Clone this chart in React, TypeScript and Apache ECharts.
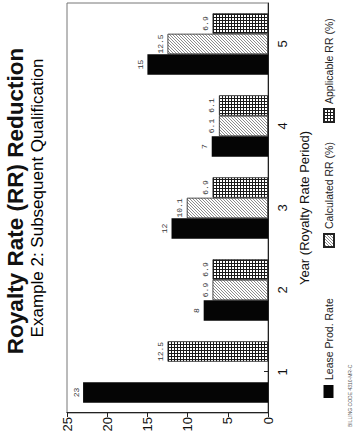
import React, { useEffect, useRef } from "react";
import * as echarts from "echarts";

const years = ["1", "2", "3", "4", "5"];
const leaseProdRate = [23, 8, 12, 7, 15];
const calculatedRR: (number | null)[] = [null, 6.9, 10.1, 6.1, 12.5];
const applicableRR = [12.5, 6.9, 6.9, 6.1, 6.9];
const valueAxisMax = 25;
const valueAxisStep = 5;

const titleText = "Royalty Rate (RR) Reduction";
const subtitleText = "Example 2: Subsequent Qualification";
const xAxisName = "Year (Royalty Rate Period)";
const seriesNames = ["Lease Prod. Rate", "Calculated RR (%)", "Applicable RR (%)"];
const footerText = "BILLING CODE 4310-MR-C";

function makeHatch(): HTMLCanvasElement {
  const c = document.createElement("canvas");
  c.width = 3;
  c.height = 3;
  const g = c.getContext("2d")!;
  g.fillStyle = "#ffffff";
  g.fillRect(0, 0, 3, 3);
  g.fillStyle = "#8c8c8c";
  g.fillRect(0, 2, 1, 1);
  g.fillRect(1, 1, 1, 1);
  g.fillRect(2, 0, 1, 1);
  return c;
}

function makeCross(): HTMLCanvasElement {
  const c = document.createElement("canvas");
  c.width = 3;
  c.height = 3;
  const g = c.getContext("2d")!;
  g.fillStyle = "#ffffff";
  g.fillRect(0, 0, 3, 3);
  g.fillStyle = "#1a1a1a";
  g.fillRect(0, 0, 3, 1);
  g.fillRect(0, 0, 1, 3);
  return c;
}

export default function App() {
  const ref = useRef<HTMLDivElement>(null);

  useEffect(() => {
    if (!ref.current) return;
    const chart = echarts.init(ref.current, undefined, { renderer: "svg" });
    const hatch = { image: makeHatch(), repeat: "repeat" } as any;
    const cross = { image: makeCross(), repeat: "repeat" } as any;
    const labelStyle = {
      show: true,
      position: "top" as const,
      distance: 3,
      fontSize: 8,
      fontFamily: "Liberation Mono",
      color: "#333",
    };
    const legendCommon = {
      itemWidth: 13,
      itemHeight: 10,
      icon: "rect",
      top: 318,
      textStyle: { fontSize: 10.5, color: "#222" },
    };
    const option: any = {
      animation: false,
      backgroundColor: "#ffffff",
      textStyle: { fontFamily: "Liberation Sans" },
      graphic: [
        {
          type: "text",
          x: 234,
          y: 4,
          style: {
            text: titleText,
            textAlign: "center",
            textVerticalAlign: "top",
            font: "bold 22.5px 'Liberation Sans'",
            fill: "#111",
          },
        },
        {
          type: "text",
          x: 237,
          y: 29,
          style: {
            text: subtitleText,
            textAlign: "center",
            textVerticalAlign: "top",
            font: "17px 'Liberation Sans'",
            fill: "#000",
          },
        },
        {
          type: "text",
          x: 8,
          y: 347,
          style: {
            text: footerText,
            textAlign: "left",
            textVerticalAlign: "top",
            font: "5px 'Liberation Sans'",
            fill: "#555",
          },
        },
      ],
      legend: [
        { ...legendCommon, data: [seriesNames[0]], left: 32 },
        { ...legendCommon, data: [seriesNames[1]], left: 182 },
        { ...legendCommon, data: [seriesNames[2]], left: 307 },
      ],
      grid: {
        left: 22,
        right: 3,
        top: 67,
        bottom: 88,
        show: true,
        borderColor: "#777",
        borderWidth: 1,
        containLabel: false,
      },
      xAxis: {
        type: "category",
        data: years,
        name: xAxisName,
        nameLocation: "middle",
        nameGap: 30,
        nameTextStyle: { fontSize: 13, color: "#111" },
        axisLine: { show: true, lineStyle: { color: "#222", width: 1 } },
        axisTick: { show: true, alignWithLabel: true, inside: true, length: 4, lineStyle: { color: "#222" } },
        axisLabel: { fontSize: 13, color: "#111", margin: 8 },
      },
      yAxis: {
        type: "value",
        min: 0,
        max: valueAxisMax,
        interval: valueAxisStep,
        axisLine: { show: true, lineStyle: { color: "#222", width: 1 } },
        axisTick: { show: true, inside: false, length: 4, lineStyle: { color: "#222" } },
        axisLabel: { fontSize: 13, color: "#111", margin: 4 },
        splitLine: { show: false },
      },
      series: [
        {
          name: seriesNames[0],
          type: "bar",
          data: leaseProdRate,
          barGap: "0%",
          barCategoryGap: "25%",
          itemStyle: { color: "#050505" },
          label: labelStyle,
        },
        {
          name: seriesNames[1],
          type: "bar",
          data: calculatedRR,
          barGap: "0%",
          barCategoryGap: "25%",
          itemStyle: { color: hatch, borderColor: "#222", borderWidth: 0.8 },
          label: labelStyle,
        },
        {
          name: seriesNames[2],
          type: "bar",
          data: applicableRR,
          barGap: "0%",
          barCategoryGap: "25%",
          itemStyle: { color: cross, borderColor: "#222", borderWidth: 0.8 },
          label: labelStyle,
        },
      ],
    };
    chart.setOption(option);
    return () => chart.dispose();
  }, []);

  return (
    <div
      style={{
        position: "fixed",
        left: 0,
        top: 0,
        width: 356,
        height: 435,
        overflow: "hidden",
        background: "#fff",
      }}
    >
      <div
        ref={ref}
        style={{
          position: "absolute",
          left: 0,
          top: 0,
          width: 435,
          height: 356,
          transformOrigin: "0 0",
          transform: "translateY(435px) rotate(-90deg)",
        }}
      />
    </div>
  );
}
